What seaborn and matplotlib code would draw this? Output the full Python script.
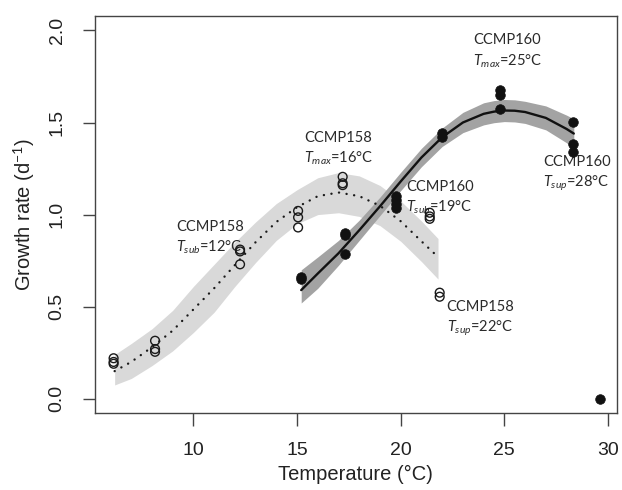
import numpy as np
import pandas as pd
import seaborn as sns
import matplotlib.pyplot as plt

# observed growth rates
ccmp158_temp = [6.15, 6.15, 6.15, 8.15, 8.15, 8.15, 12.25, 12.25, 12.25,
                15.05, 15.05, 15.05, 17.2, 17.2, 17.2, 21.4, 21.4, 21.4, 21.88, 21.88]
ccmp158_rate = [0.22, 0.20, 0.19, 0.315, 0.27, 0.255, 0.81, 0.80, 0.73,
                1.02, 0.985, 0.93, 1.205, 1.17, 1.16, 1.01, 0.99, 0.977, 0.576, 0.554]

ccmp160_temp = [15.18, 15.18, 17.32, 17.32, 17.32, 19.75, 19.75, 19.75, 19.75,
                21.98, 21.98, 24.8, 24.8, 24.8, 28.3, 28.3, 28.3, 29.6]
ccmp160_rate = [0.66, 0.65, 0.90, 0.89, 0.786, 1.10, 1.08, 1.06, 1.035,
                1.442, 1.42, 1.674, 1.65, 1.573, 1.505, 1.383, 1.342, 0.0]

# fitted curves with confidence bands
fit158_temp = [6.2, 7, 8, 9, 10, 11, 12, 13, 14, 15, 16, 17, 18, 19, 20, 21, 21.8]
fit158_rate = [0.15, 0.20, 0.28, 0.37, 0.485, 0.60, 0.726, 0.85, 0.96, 1.04,
               1.10, 1.12, 1.10, 1.048, 0.964, 0.855, 0.77]
fit158_low = [0.075, 0.11, 0.18, 0.26, 0.36, 0.47, 0.61, 0.74, 0.86, 0.95,
              1.00, 1.01, 0.99, 0.94, 0.855, 0.745, 0.65]
fit158_up = [0.24, 0.30, 0.38, 0.48, 0.61, 0.73, 0.85, 0.96, 1.06, 1.135,
             1.20, 1.228, 1.21, 1.158, 1.074, 0.965, 0.87]

fit160_temp = [15.2, 16, 17, 18, 19, 20, 21, 22, 23, 24, 24.5, 25, 25.5, 26, 27, 28, 28.35]
fit160_rate = [0.59, 0.68, 0.79, 0.915, 1.045, 1.18, 1.31, 1.42, 1.50, 1.547,
               1.559, 1.565, 1.564, 1.557, 1.525, 1.465, 1.44]
fit160_low = [0.52, 0.60, 0.725, 0.86, 0.995, 1.13, 1.26, 1.37, 1.445, 1.487,
              1.499, 1.505, 1.503, 1.495, 1.46, 1.39, 1.36]
fit160_up = [0.70, 0.77, 0.86, 0.97, 1.095, 1.23, 1.36, 1.47, 1.555, 1.607,
             1.619, 1.625, 1.623, 1.615, 1.59, 1.54, 1.52]

labels = [("CCMP158", r"$T_{sub}$=12°C", 9.17, 0.935),
          ("CCMP158", r"$T_{max}$=16°C", 15.34, 1.415),
          ("CCMP160", r"$T_{sub}$=19°C", 20.26, 1.152),
          ("CCMP158", r"$T_{sup}$=22°C", 22.22, 0.497),
          ("CCMP160", r"$T_{max}$=25°C", 23.49, 1.946),
          ("CCMP160", r"$T_{sup}$=28°C", 26.87, 1.283)]

sns.set_style("ticks")
plt.rcParams["font.family"] = ["Liberation Sans", "DejaVu Sans"]
plt.rcParams["mathtext.fontset"] = "custom"
plt.rcParams["mathtext.rm"] = "Lato"
plt.rcParams["mathtext.it"] = "Lato:italic"

pts158 = pd.DataFrame({"temp": ccmp158_temp, "rate": ccmp158_rate})
pts160 = pd.DataFrame({"temp": ccmp160_temp, "rate": ccmp160_rate})
fit158 = pd.DataFrame({"temp": fit158_temp, "rate": fit158_rate,
                       "low": fit158_low, "up": fit158_up})
fit160 = pd.DataFrame({"temp": fit160_temp, "rate": fit160_rate,
                       "low": fit160_low, "up": fit160_up})

fig = plt.figure(figsize=(6.22, 4.9), dpi=100)
ax = fig.add_axes([0.1523, 0.1565, 0.8392, 0.8115])

ax.fill_between(fit158["temp"], fit158["low"], fit158["up"],
                color="#d9d9d9", lw=0, zorder=1)
ax.fill_between(fit160["temp"], fit160["low"], fit160["up"],
                color="#a3a3a3", lw=0, zorder=2)

# dotted fit line: tiny dashes with round caps -> dots
sns.lineplot(data=fit158, x="temp", y="rate", ax=ax, color="#1a1a1a",
             lw=1.7, linestyle=(0, (0.05, 3.2)), dash_capstyle="round", zorder=3)
sns.lineplot(data=fit160, x="temp", y="rate", ax=ax, color="#111111",
             lw=1.7, zorder=4)

sns.scatterplot(data=pts158, x="temp", y="rate", ax=ax, s=40,
                facecolor="none", edgecolor="#1a1a1a", linewidth=1.0, zorder=5)
sns.scatterplot(data=pts160, x="temp", y="rate", ax=ax, s=48,
                color="#111111", edgecolor="#111111", linewidth=0.5, zorder=6)

for name, sub, x, y in labels:
    ax.text(x, y, name, fontsize=10.5, family="Lato", color="#2a2a2a",
            ha="left", va="center")
    ax.text(x, y - 0.112, sub, fontsize=10.5, family="Lato", color="#2a2a2a",
            ha="left", va="center")

ax.set_xlim(5.24, 30.42)
ax.set_ylim(-0.079, 2.08)
ax.set_xticks([10, 15, 20, 25, 30])
ax.set_yticks([0.0, 0.5, 1.0, 1.5, 2.0])
ax.set_yticklabels(["0.0", "0.5", "1.0", "1.5", "2.0"], rotation=90, va="center")
ax.tick_params(length=9, width=1, color="#444444", labelsize=14, pad=12,
               labelcolor="#222222")
for sp in ax.spines.values():
    sp.set_visible(True)
    sp.set_color("#444444")
    sp.set_linewidth(1.0)

ax.set_xlabel("Temperature (°C)", fontsize=14.5, color="#222222", labelpad=4)
ax.set_ylabel("Growth rate (d$^{-1}$)", fontsize=14.5, color="#222222", labelpad=8)

fig.savefig("out.png", dpi=100)
